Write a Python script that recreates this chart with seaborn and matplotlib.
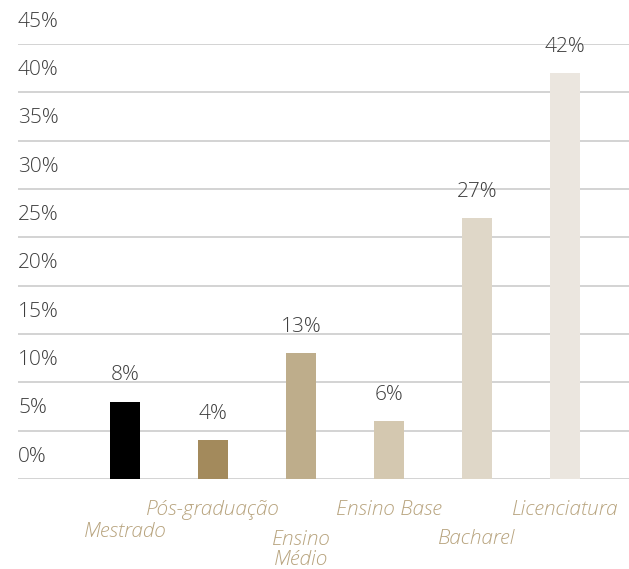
import matplotlib
matplotlib.use("Agg")
import matplotlib.pyplot as plt
import seaborn as sns
import pandas as pd

categories = ["Mestrado", "Pós-graduação", "Ensino\nMédio", "Ensino Base", "Bacharel", "Licenciatura"]
values = [8, 4, 13, 6, 27, 42]
value_labels = ["8%", "4%", "13%", "6%", "27%", "42%"]
y_ticks = [0, 5, 10, 15, 20, 25, 30, 35, 40, 45]
y_tick_labels = ["0%", "5%", "10%", "15%", "20%", "25%", "30%", "35%", "40%", "45%"]
bar_colors = ["#000000", "#a38a5c", "#bead8b", "#d4c8b0", "#dfd7c8", "#ebe6df"]

sns.set_theme(style="white")
plt.rcParams["font.family"] = ["Open Sans", "DejaVu Sans"]

df = pd.DataFrame({"categoria": categories, "valor": values})

fig = plt.figure(figsize=(6.29, 5.69), dpi=100)
ax = fig.add_axes([18 / 629, 1 - 479 / 569, 1 - 18 / 629, (479 - 44) / 569])

sns.barplot(data=df, x="categoria", y="valor", hue="categoria",
            palette=bar_colors, width=0.34, legend=False, ax=ax,
            saturation=1, linewidth=0, zorder=3)

ax.set_ylim(0, 45)
ax.set_xlim(-1.216, 5.727)
for t, lab in zip(y_ticks, y_tick_labels):
    ax.axhline(t, color="#d3d3d3", linewidth=1.4, zorder=1)
    ax.annotate(lab, xy=(0, t), xycoords=("axes fraction", "data"),
                xytext=(0, 16), textcoords="offset points", ha="left", va="center",
                fontsize=15, color="#3e3e3e", fontweight="light")

ax.set_xticks([])
ax.set_yticks([])
ax.set_xlabel("")
ax.set_ylabel("")
for s in ax.spines.values():
    s.set_visible(False)

for i, (v, lab) in enumerate(zip(values, value_labels)):
    ax.annotate(lab, xy=(i, v), xytext=(0, 19), textcoords="offset points",
                ha="center", va="center", fontsize=15, color="#3e3e3e",
                fontweight="light")

# staggered category labels beneath the baseline
label_offsets = [-38, -22, -37, -22, -43, -22]
for i, cat in enumerate(categories):
    ax.annotate(cat, xy=(i, 0), xytext=(0, label_offsets[i]), textcoords="offset points",
                ha="center", va="center" if "\n" not in cat else "top",
                fontsize=15, color="#b8a47f", style="italic",
                fontweight="light", linespacing=0.95)

fig.savefig("out.png", dpi=100, facecolor="white")
